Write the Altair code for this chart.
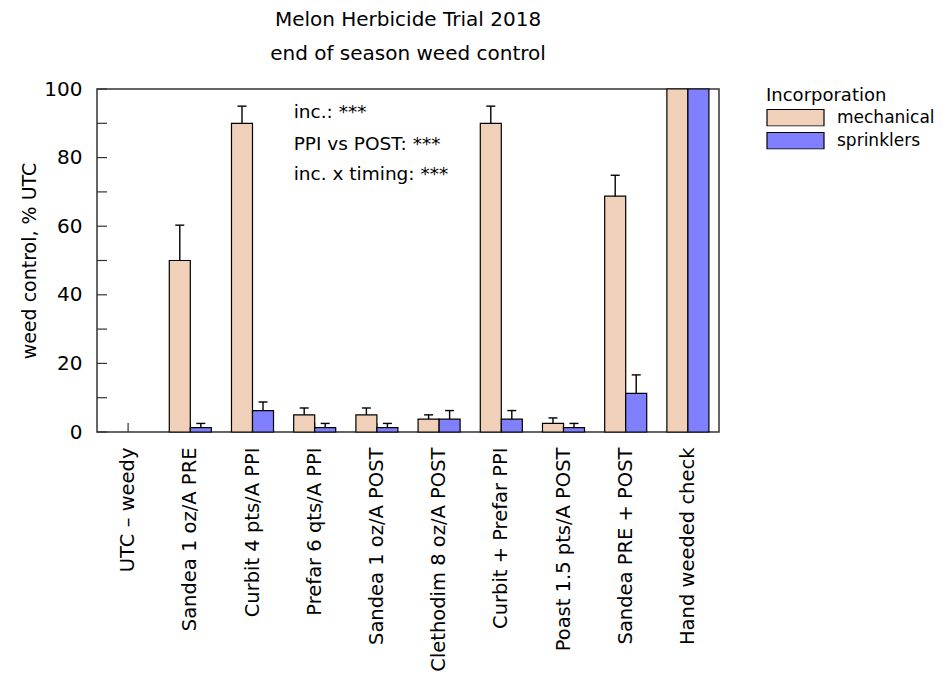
import altair as alt
import pandas as pd

treatments = ["UTC – weedy", "Sandea 1 oz/A PRE", "Curbit 4 pts/A PPI", "Prefar 6 qts/A PPI",
              "Sandea 1 oz/A POST", "Clethodim 8 oz/A POST", "Curbit + Prefar PPI",
              "Poast 1.5 pts/A POST", "Sandea PRE + POST", "Hand weeded check"]
incorporation = ["mechanical", "sprinklers"]
mech_mean = [0, 50, 90, 5, 5, 3.75, 90, 2.5, 68.75, 100]
mech_se = [0, 10.3, 5, 2, 2, 1.25, 5, 1.6, 6.1, 0]
spr_mean = [0, 1.25, 6.25, 1.25, 1.25, 3.75, 3.75, 1.25, 11.25, 100]
spr_se = [0, 1.25, 2.5, 1.25, 1.25, 2.5, 2.5, 1.25, 5.4, 0]
annotations = ["inc.: ***", "PPI vs POST: ***", "inc. x timing: ***"]
annot_y = [91.5, 82.2, 73.5]
annot_anchor = "Prefar 6 qts/A PPI"
y_minor_ticks = list(range(0, 101, 10))
colors = ["#F0D0B8", "#8080FF"]

FONT = "DejaVu Sans"

rows = []
for t, m, s in zip(treatments, mech_mean, mech_se):
    rows.append({"treatment": t, "inc": "mechanical", "mean": m, "upper": m + s, "se": s})
for t, m, s in zip(treatments, spr_mean, spr_se):
    rows.append({"treatment": t, "inc": "sprinklers", "mean": m, "upper": m + s, "se": s})
df = pd.DataFrame(rows)
df_bars = df[df["mean"] > 0]
df_err = df[df["se"] > 0]
df_ticks = pd.DataFrame({"v": y_minor_ticks})
df_xt = pd.DataFrame({"treatment": treatments})
df_ann = pd.DataFrame({"label": annotations, "y": annot_y, "treatment": [annot_anchor] * 3})

x_scale = alt.Scale(domain=treatments, paddingInner=0, paddingOuter=0)
x_axis = alt.Axis(title=None, labelAngle=-90, labelAlign="right", labelBaseline="middle",
                  labelFontSize=19.5, labelPadding=15, ticks=False, domain=False,
                  labelColor="black", labelLimit=400)
y_scale = alt.Scale(domain=[0, 100], nice=False)
y_axis = alt.Axis(title="weed control, % UTC", values=[0, 20, 40, 60, 80, 100], ticks=False,
                  domain=False, grid=False, labelFontSize=20, labelPadding=15,
                  titleFontSize=19, titleFontWeight="normal", titlePadding=4,
                  labelColor="black", titleColor="black")
xo = alt.XOffset("inc:N", scale=alt.Scale(domain=incorporation, paddingOuter=0.48, paddingInner=0))

xticks = alt.Chart(df_xt).mark_rule(color="#333", strokeWidth=1.2, y2Offset=-9).encode(
    x=alt.X("treatment:N", scale=x_scale, axis=x_axis),
    y=alt.datum(0),
    y2=alt.datum(0),
)

yticks = alt.Chart(df_ticks).mark_rule(color="#333", strokeWidth=1.2).encode(
    y=alt.Y("v:Q", scale=y_scale, axis=y_axis),
    x=alt.value(0),
    x2=alt.value(10),
)

bars = alt.Chart(df_bars).mark_bar(stroke="black", strokeWidth=1.2).encode(
    x=alt.X("treatment:N", scale=x_scale, axis=x_axis),
    xOffset=xo,
    y=alt.Y("mean:Q", scale=y_scale, axis=y_axis),
    color=alt.Color("inc:N", scale=alt.Scale(domain=incorporation, range=colors),
                    legend=alt.Legend(title="Incorporation", orient="none", legendX=669, legendY=-2,
                                      titleFontSize=18, titleFontWeight="normal", titleColor="black",
                                      labelFontSize=17, labelColor="black", labelOffset=12,
                                      symbolType="M-1,-0.29L1,-0.29L1,0.29L-1,0.29Z",
                                      symbolSize=3249, symbolStrokeColor="black",
                                      symbolStrokeWidth=1.2, symbolOpacity=1, titlePadding=4,
                                      clipHeight=17.5, rowPadding=4)),
)

err = alt.Chart(df_err).mark_rule(color="black", strokeWidth=1.4).encode(
    x=alt.X("treatment:N", scale=x_scale, axis=x_axis),
    xOffset=xo,
    y=alt.Y("mean:Q", scale=y_scale, axis=y_axis),
    y2="upper:Q",
)
caps = alt.Chart(df_err).mark_tick(color="black", thickness=1.4, size=9, opacity=1).encode(
    x=alt.X("treatment:N", scale=x_scale, axis=x_axis),
    xOffset=xo,
    y=alt.Y("upper:Q", scale=y_scale, axis=y_axis),
)

ann = alt.Chart(df_ann).mark_text(align="left", baseline="alphabetic", fontSize=18.5, dx=-21,
                                  color="black", font=FONT).encode(
    x=alt.X("treatment:N", scale=x_scale, axis=x_axis),
    y=alt.Y("y:Q", scale=y_scale, axis=y_axis),
    text="label:N",
)

chart = alt.layer(xticks, yticks, bars, err, caps, ann).properties(
    width=622, height=343,
    title=alt.TitleParams(text="Melon Herbicide Trial 2018", subtitle="end of season weed control",
                          fontSize=20, subtitleFontSize=20, fontWeight="normal",
                          color="black", subtitleColor="black", anchor="middle",
                          offset=15, subtitlePadding=14, font=FONT, subtitleFont=FONT),
    autosize=alt.AutoSizeParams(type="none"),
    padding={"left": 89, "top": 81, "right": 220, "bottom": 244},
).configure(font=FONT).configure_view(stroke="#333", strokeWidth=1.5)

chart.save("out.html", embed_options={"renderer": "svg", "actions": False})
